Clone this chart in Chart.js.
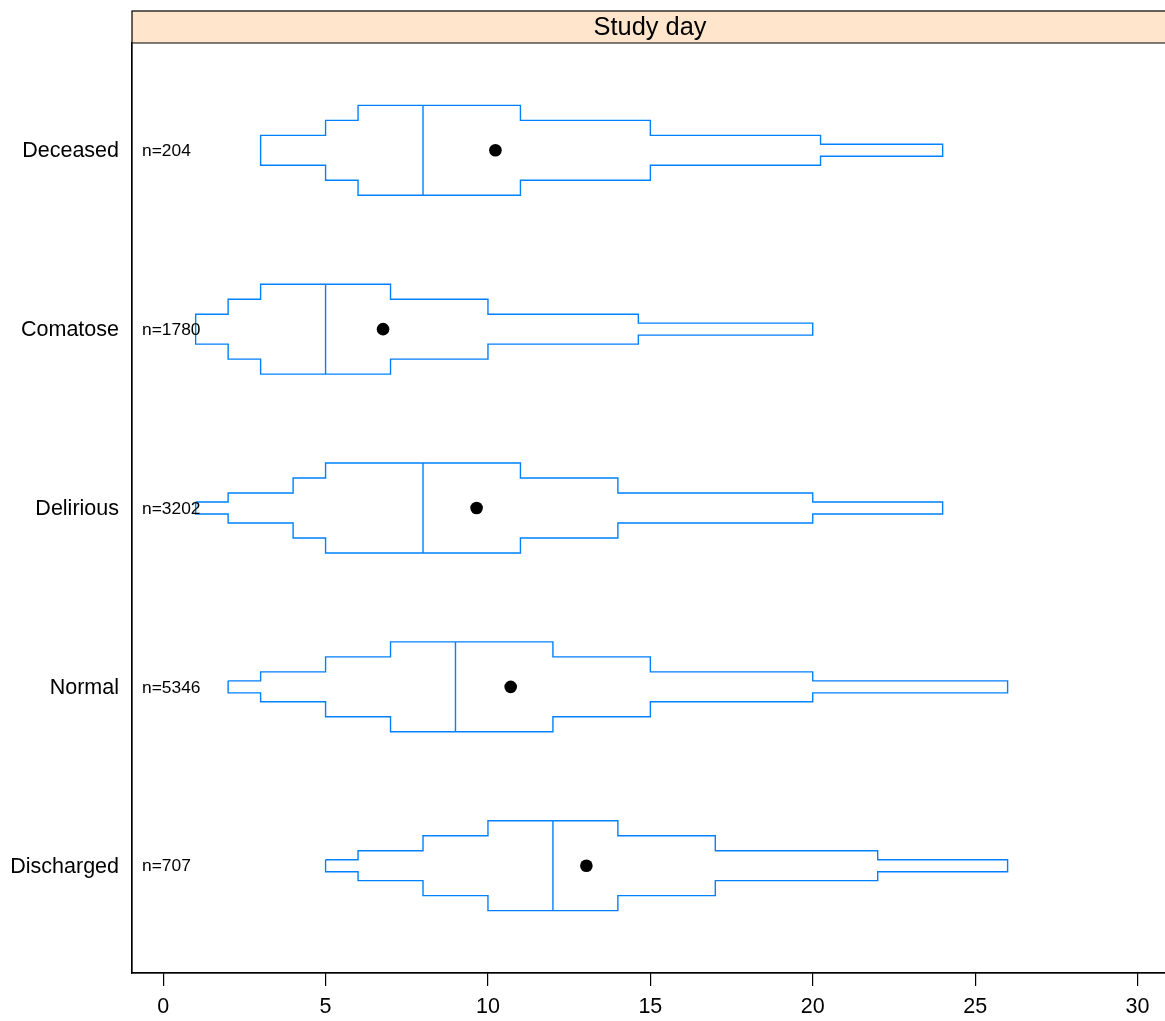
<!DOCTYPE html>
<html>
<head>
<meta charset="utf-8">
<script src="https://cdn.jsdelivr.net/npm/chart.js@4.4.1/dist/chart.umd.min.js"></script>
<style>
  html, body { margin: 0; padding: 0; background: #fff; overflow: hidden; }
  #wrap { width: 1175px; height: 1021px; position: relative; }
</style>
</head>
<body>
<div id="wrap"><canvas id="c"></canvas></div>
<script>
// Categories from bottom (y=1) to top (y=5)
const categories = ['Discharged', 'Normal', 'Delirious', 'Comatose', 'Deceased'];
// Quantiles: 0.05, 0.125, 0.25, 0.375, 0.625, 0.75, 0.875, 0.95
const quantDischarged = [5, 6, 8, 10, 14, 17, 22, 26];
const quantNormal     = [2, 3, 5, 7, 12, 15, 20, 26];
const quantDelirious  = [1, 2, 4, 5, 11, 14, 20, 24];
const quantComatose   = [1, 1, 2, 3, 7, 10, 14.63, 20];
const quantDeceased   = [3, 3, 5, 6, 11, 15, 20.24, 24];
const quantiles = [quantDischarged, quantNormal, quantDelirious, quantComatose, quantDeceased];
const medians = [12, 9, 8, 5, 8];
const means = [13.03, 10.70, 9.65, 6.77, 10.23];
const counts = [707, 5346, 3202, 1780, 204];
const xTicks = [0, 5, 10, 15, 20, 25, 30];
const stripTitle = 'Study day';

// box half-height per probability level (proportional to the probability)
const probs = [0.05, 0.125, 0.25, 0.375];
const HSCALE = 0.67;
const BLUE = '#0080ff';
const FONT = '"Liberation Sans", Arial, Helvetica, sans-serif';

function outline(q, y) {
  const lv = [0, 1, 2, 3, 2, 1, 0];
  const top = [], bot = [];
  for (let i = 0; i < 7; i++) {
    const h = probs[lv[i]] * HSCALE;
    top.push({x: q[i], y: y + h}, {x: q[i + 1], y: y + h});
    bot.push({x: q[i], y: y - h}, {x: q[i + 1], y: y - h});
  }
  bot.reverse();
  const pts = top.concat(bot);
  pts.push(pts[0]);
  return pts;
}

const datasets = [];
quantiles.forEach((q, i) => {
  const y = i + 1;
  datasets.push({
    type: 'scatter', data: outline(q, y), showLine: true,
    borderColor: BLUE, borderWidth: 1.4, pointRadius: 0, fill: false, tension: 0
  });
  const h = probs[3] * HSCALE;
  datasets.push({
    type: 'scatter', data: [{x: medians[i], y: y - h}, {x: medians[i], y: y + h}], showLine: true,
    borderColor: BLUE, borderWidth: 1.4, pointRadius: 0, fill: false
  });
});
datasets.push({
  type: 'scatter',
  data: means.map((m, i) => ({x: m, y: i + 1})),
  pointRadius: 6.3, pointBackgroundColor: '#000', pointBorderColor: '#000', pointBorderWidth: 0
});

const panelPlugin = {
  id: 'panel',
  afterDraw(chart) {
    const ctx = chart.ctx;
    const a = chart.chartArea;
    const stripTop = 11;
    ctx.save();
    ctx.fillStyle = '#ffe5cc';
    ctx.fillRect(a.left, stripTop, a.right - a.left, a.top - stripTop);
    ctx.strokeStyle = '#000';
    ctx.lineWidth = 1.2;
    ctx.strokeRect(a.left, stripTop, a.right - a.left, a.bottom - stripTop);
    ctx.beginPath();
    ctx.moveTo(a.left, a.top); ctx.lineTo(a.right, a.top); ctx.stroke();
    ctx.fillStyle = '#000';
    ctx.font = '25.4px ' + FONT;
    ctx.textAlign = 'center';
    ctx.textBaseline = 'middle';
    ctx.fillText(stripTitle, 650, (stripTop + a.top) / 2 + 1);
    // n labels
    const ys = chart.scales.y;
    ctx.font = '17.4px ' + FONT;
    ctx.textAlign = 'left';
    counts.forEach((n, i) => {
      ctx.fillText('n=' + n, a.left + 10, ys.getPixelForValue(i + 1) + 1);
    });
    ctx.restore();
  }
};

new Chart(document.getElementById('c'), {
  type: 'scatter',
  data: { datasets },
  options: {
    responsive: true, maintainAspectRatio: false, animation: false,
    layout: { padding: { top: 43, right: 3, left: 0, bottom: 0 } },
    plugins: { legend: { display: false }, tooltip: { enabled: false } },
    scales: {
      x: {
        type: 'linear', min: -0.96, max: 30.96,
        afterBuildTicks(s) { s.ticks = xTicks.map(v => ({value: v})); },
        afterFit(s) { s.height = 48; },
        grid: { display: true, drawOnChartArea: false, drawTicks: true, tickLength: 13, color: '#000', lineWidth: 1.2 },
        border: { display: true, color: '#000', width: 1.2 },
        ticks: { color: '#000', font: { family: FONT, size: 21.5 }, padding: 8, maxRotation: 0, autoSkip: false }
      },
      y: {
        type: 'linear', min: 0.4, max: 5.6,
        afterBuildTicks(s) { s.ticks = categories.map((c, i) => ({value: i + 1})); },
        afterFit(s) { s.width = 132; },
        grid: { display: false, drawTicks: false },
        border: { display: true, color: '#000', width: 1.2 },
        ticks: { color: '#000', font: { family: FONT, size: 21.5 }, padding: 13, autoSkip: false, labelOffset: 1,
                 callback: (v) => categories[Math.round(v) - 1] }
      }
    }
  },
  plugins: [panelPlugin]
});
</script>
</body>
</html>
